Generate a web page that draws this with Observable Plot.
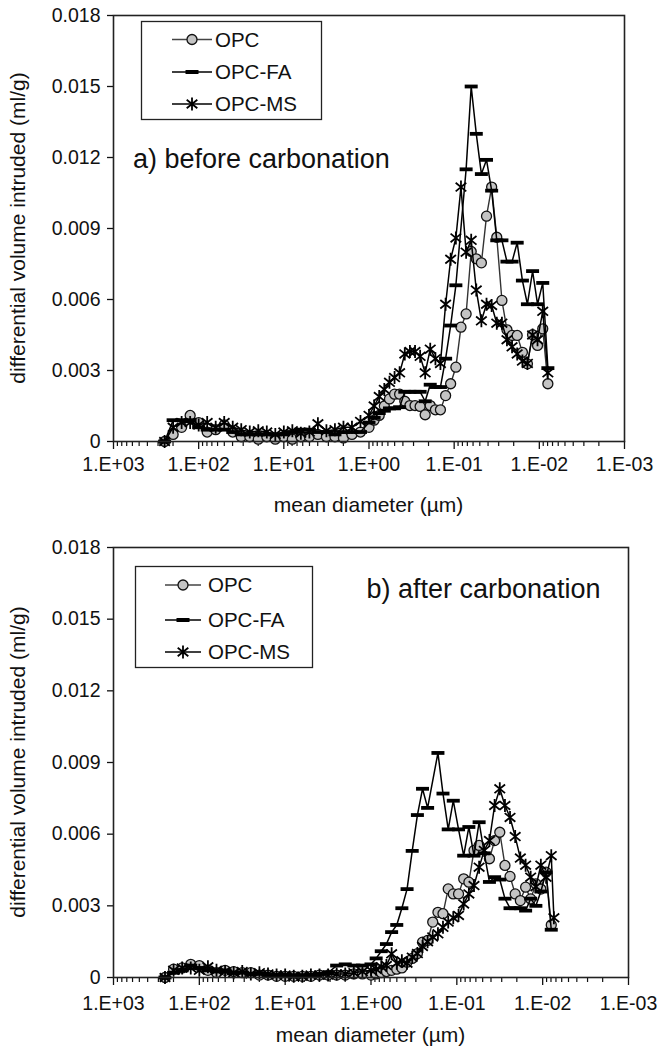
<!DOCTYPE html>
<html><head><meta charset="utf-8">
<script src="https://cdn.jsdelivr.net/npm/d3@7"></script>
<script src="https://cdn.jsdelivr.net/npm/@observablehq/plot@0.6"></script>
<style>
body{margin:0;background:#fff;}
#wrap{width:657px;}
#wrap svg{display:block;}
</style></head><body><div id="wrap"></div>
<script>
// mean pore diameter (µm), shared MIP steps
const diameter = [251.2, 199.5, 158.5, 125.9, 100, 79.43, 63.10, 50.12, 39.81, 31.62,
  25.12, 19.95, 15.85, 12.59, 10, 7.943, 6.310, 5.012, 3.981, 3.162,
  2.512, 1.995, 1.585, 1.259, 1.0,
  0.871, 0.759, 0.661, 0.575, 0.501, 0.437, 0.380, 0.331, 0.288, 0.251,
  0.219, 0.191, 0.166, 0.145, 0.126, 0.110, 0.0955, 0.0832, 0.0724, 0.0631,
  0.0550, 0.0479, 0.0417, 0.0363, 0.0316, 0.0275, 0.0240, 0.0209, 0.0182, 0.0158,
  0.0138, 0.0120, 0.0105, 0.00912, 0.00794, 0.00740];

// differential volume intruded, in 10^-3 ml/g (null = no point at that step)
const beforeOPC = [0, 0.3, 0.6, 1.1, 0.8, 0.4, 0.5, 0.7, 0.4, 0.2,
  0.2, 0.1, 0.2, 0.1, 0.2, 0.1, 0.2, 0.2, 0.3, 0.2,
  0.2, 0.15, 0.3, 0.4, 0.6,
  0.9, 1.1, 1.5, 1.8, 2.0, 2.0, 1.7, 1.52, 1.52, 1.48,
  1.13, 1.52, 1.34, 1.34, 1.94, 2.44, 3.14, 4.83, 5.39, 8.03,
  7.72, 7.55, 9.52, 10.75, 8.63, 5.96, 4.72, 4.48, 4.48, 3.77,
  3.28, 4.51, 4.06, 4.76, 2.44, null];
const beforeFA = [0, 0.9, 0.9, 0.9, 0.6, 0.5, 0.5, 0.5, 0.4, 0.3,
  0.3, 0.3, 0.3, 0.3, 0.3, 0.4, 0.5, 0.5, 0.4, 0.4,
  0.3, 0.4, 0.4, 0.4, 0.8,
  1.0, 1.2, 1.3, 1.4, 1.4, 1.45, 2.1, 2.1, 2.1, 2.1,
  1.7, 2.4, 2.3, 2.3, 3.5, 4.9, 6.6, null, 11.5, 15.0,
  13.0, 11.3, 11.9, 10.6, 8.5, 8.5, 7.6, 7.6, 8.4, 6.8,
  5.8, 7.2, 5.8, 6.7, 3.1, null];
const beforeMS = [0, 0.6, 0.8, 0.8, 0.7, 0.8, 0.6, 0.8, 0.6, 0.5,
  0.4, 0.45, 0.4, 0.3, 0.4, 0.45, 0.35, 0.4, 0.75, 0.45,
  0.5, 0.6, 0.6, 0.85, 1.1,
  1.5, 1.9, 2.2, 2.5, 2.7, 2.9, 3.7, 3.8, 3.8, 3.6,
  2.9, 3.9, 3.5, 3.3, 5.8, 7.7, 8.6, 10.75, 8.0, 8.5,
  6.4, 5.1, 5.8, 5.75, 5.0, 5.0, 4.3, 4.0, 3.7, 3.4,
  3.3, 4.5, 4.3, 5.5, 2.9, null];

const afterOPC = [0, 0.35, 0.4, 0.55, 0.5, 0.3, 0.2, 0.3, 0.25, 0.2,
  0.2, 0.1, 0.1, 0.05, 0.05, 0.05, 0.05, 0.05, 0.1, 0.1,
  0.1, 0.1, 0.15, 0.15, 0.1,
  0.15, 0.2, 0.25, 0.3, 0.35, 0.4, 0.64, 0.8, 1.0, 1.48,
  1.55, 2.32, 2.73, 2.67, 3.71, 3.5, 3.5, 4.13, 3.99, 5.32,
  5.53, null, 4.97, 5.73, 6.08, 4.69, 4.23, 3.5, 3.22, 3.78,
  3.29, 3.92, 3.7, 4.41, 2.2, null];
const afterFA = [0, 0.2, 0.3, 0.5, 0.4, 0.3, 0.25, 0.3, 0.2, 0.2,
  0.15, 0.15, 0.1, 0.1, 0.1, 0.1, 0.1, 0.1, 0.15, 0.2,
  0.5, 0.55, 0.5, 0.5, 0.55,
  0.8, 1.1, 1.4, 1.9, 2.2, 2.9, 3.7, 5.3, 6.8, 7.9,
  7.1, null, 9.4, 7.7, 6.2, 7.4, 6.2, 5.1, 6.3, 5.1,
  6.5, 5.2, 4.0, 4.2, 4.1, 3.3, 2.9, 2.9, 2.9, 2.8,
  3.3, 3.0, 3.6, 4.4, 2.0, null];
const afterMS = [0, 0.3, 0.4, 0.4, 0.3, 0.45, 0.3, 0.25, 0.2, 0.25,
  0.15, 0.2, 0.15, 0.1, 0.1, 0.05, 0.05, 0.1, 0.1, 0.1,
  0.15, 0.15, 0.2, 0.25, 0.3,
  0.35, 0.45, 0.5, 0.99, 0.6, 0.7, 0.6, 0.85, 1.0, 1.3,
  1.5, 1.7, 1.83, 2.1, 2.32, 2.5, 2.6, 3.08, 3.5, 3.85,
  4.62, 5.32, 5.73, 7.2, 7.9, 7.2, 6.7, 5.9, 5.0, 4.7,
  4.2, 3.8, 4.7, 4.2, 5.1, 2.5];

const seriesNames = ["OPC", "OPC-FA", "OPC-MS"];
const panelNotes = ["a) before carbonation", "b) after carbonation"];
const xTickValues = [1000, 100, 10, 1, 0.1, 0.01, 0.001];
const xTickLabels = ["1.E+03", "1.E+02", "1.E+01", "1.E+00", "1.E-01", "1.E-02", "1.E-03"];
const yTickValues = [0, 3, 6, 9, 12, 15, 18];
const yTickLabels = ["0", "0.003", "0.006", "0.009", "0.012", "0.015", "0.018"];
const xTitle = "mean diameter (\u00B5m)";
const yTitle = "differential volume intruded (ml/g)";

[beforeOPC, beforeFA, beforeMS, afterOPC, afterFA, afterMS].forEach((a, i) => {
  if (a.length !== diameter.length) throw new Error("length mismatch in series " + i + ": " + a.length);
});

// minor ticks of the log axis (2..9 × 10^n)
const minorTicks = [];
for (let e = -3; e <= 2; e++) for (let k = 2; k <= 9; k++) minorTicks.push(+(k * Math.pow(10, e)).toPrecision(3));

const FONT = "'Liberation Sans', Arial, Helvetica, sans-serif";
const barSymbol = {draw(c) { c.rect(-6.5, -1.9, 13, 3.8); }};
const starSymbol = {draw(c) {
  const r = 6.5, a = 5.3, b = 4.3;
  c.moveTo(0, -r); c.lineTo(0, r);
  c.moveTo(-a, -b); c.lineTo(a, b);
  c.moveTo(-a, b); c.lineTo(a, -b);
}};

const rowsOf = vals => diameter.map((d, i) => ({d, v: vals[i]})).filter(r => r.v != null);

function panel(cfg) {
  const opc = rowsOf(cfg.opc), fa = rowsOf(cfg.fa), ms = rowsOf(cfg.ms);
  const svg = Plot.plot({
    width: 657, height: cfg.height,
    marginTop: cfg.mt, marginLeft: 113, marginRight: cfg.mr, marginBottom: cfg.mb,
    x: {type: "log", domain: [1000, 0.001], label: null},
    y: {domain: [0, 18], label: null},
    style: {fontFamily: FONT, background: "#fff", color: "#111", overflow: "visible"},
    marks: [
      Plot.axisX(minorTicks, {tickSize: 5, tickFormat: () => "", label: null, strokeWidth: 1.2}),
      Plot.axisX(xTickValues, {tickSize: 8, tickPadding: cfg.xpad, label: null, fontSize: 19.5, strokeWidth: 1.3,
        tickFormat: d => xTickLabels[xTickValues.indexOf(d)]}),
      Plot.axisY(yTickValues, {tickSize: 6, tickPadding: 7, label: null, fontSize: 19.5, strokeWidth: 1.3,
        tickFormat: d => yTickLabels[yTickValues.indexOf(d)]}),
      Plot.line(opc, {x: "d", y: "v", stroke: "#333", strokeWidth: 1.4}),
      Plot.dot(opc, {x: "d", y: "v", r: 5, fill: "#c4c4c4", stroke: "#111", strokeWidth: 1.3}),
      Plot.line(fa, {x: "d", y: "v", stroke: "#000", strokeWidth: 1.5}),
      Plot.dot(fa, {x: "d", y: "v", symbol: barSymbol, fill: "#000", stroke: "none"}),
      Plot.line(ms, {x: "d", y: "v", stroke: "#000", strokeWidth: 1.5}),
      Plot.dot(ms, {x: "d", y: "v", symbol: starSymbol, fill: "none", stroke: "#000", strokeWidth: 1.8}),
      Plot.frame({stroke: "#222", strokeWidth: 1.6})
    ]
  });
  const s = d3.select(svg);
  // axis titles
  s.append("text").attr("transform", `translate(${cfg.ylx},${cfg.yly}) rotate(-90)`)
    .attr("text-anchor", "middle").attr("dominant-baseline", "middle")
    .attr("font-family", FONT).attr("font-size", 21).attr("fill", "#111").text(yTitle);
  s.append("text").attr("x", cfg.xlx).attr("y", cfg.xly).attr("text-anchor", "middle")
    .attr("font-family", FONT).attr("font-size", 21).attr("fill", "#111").text(xTitle);
  // panel note
  s.append("text").attr("x", cfg.note[0]).attr("y", cfg.note[1]).attr("font-family", FONT)
    .attr("text-anchor", "start").attr("font-size", 27).attr("fill", "#111").text(cfg.noteText);
  // legend
  const L = cfg.legend;
  const g = s.append("g");
  g.append("rect").attr("x", L.x).attr("y", L.y).attr("width", L.w).attr("height", L.h)
    .attr("fill", "#fff").attr("stroke", "#222").attr("stroke-width", 1.3);
  seriesNames.forEach((name, i) => {
    const y = L.rows[i], cx = (L.lx1 + L.lx2) / 2;
    g.append("line").attr("x1", L.lx1).attr("x2", L.lx2).attr("y1", y).attr("y2", y)
      .attr("stroke", i === 0 ? "#444" : "#000").attr("stroke-width", 1.5);
    if (i === 0) g.append("circle").attr("cx", cx).attr("cy", y).attr("r", 5)
      .attr("fill", "#c4c4c4").attr("stroke", "#111").attr("stroke-width", 1.3);
    if (i === 1) g.append("rect").attr("x", cx - 6.5).attr("y", y - 2).attr("width", 13).attr("height", 4).attr("fill", "#000");
    if (i === 2) g.append("path").attr("transform", `translate(${cx},${y})`)
      .attr("d", "M0,-6.5L0,6.5M-5.3,-4.3L5.3,4.3M-5.3,4.3L5.3,-4.3").attr("stroke", "#000").attr("stroke-width", 1.8).attr("fill", "none");
    g.append("text").attr("x", L.tx).attr("y", y).attr("dy", "0.36em").attr("font-family", FONT)
      .attr("text-anchor", "start").attr("font-size", 20.5).attr("fill", "#111").text(name);
  });
  return svg;
}

const wrap = document.getElementById("wrap");
wrap.appendChild(panel({
  opc: beforeOPC, fa: beforeFA, ms: beforeMS,
  height: 522, mt: 15, mr: 33, mb: 81, xpad: 8,
  ylx: 19, yly: 228, xlx: 368.5, xly: 512,
  note: [133, 168], noteText: panelNotes[0],
  legend: {x: 141.5, y: 21.5, w: 180, h: 98, rows: [39.5, 72, 104], lx1: 172, lx2: 212, tx: 215}
}));
wrap.appendChild(panel({
  opc: afterOPC, fa: afterFA, ms: afterMS,
  height: 533, mt: 25, mr: 29, mb: 78, xpad: 11,
  ylx: 19, yly: 240, xlx: 370.5, xly: 520,
  note: [366.5, 76], noteText: panelNotes[1],
  legend: {x: 135.5, y: 44.5, w: 177, h: 101, rows: [63, 98, 130], lx1: 165, lx2: 201, tx: 208}
}));
</script>
</body></html>
